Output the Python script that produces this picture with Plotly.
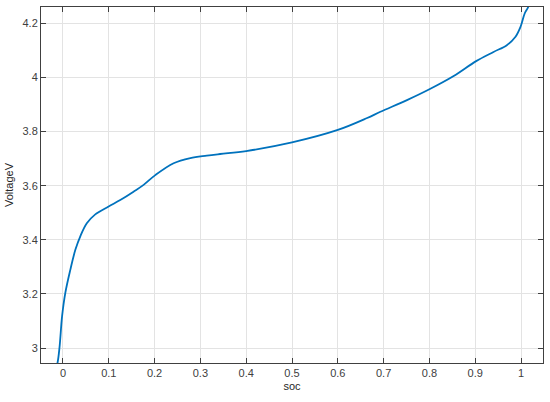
import plotly.graph_objects as go

soc = [-0.02, -0.012, -0.0074, -0.002, 0.005, 0.016, 0.027, 0.038, 0.052, 0.0705, 0.0996,
       0.125, 0.154, 0.176, 0.2015, 0.2415, 0.278, 0.314, 0.343, 0.4, 0.5, 0.6, 0.664,
       0.693, 0.751, 0.8, 0.853, 0.902, 0.940, 0.969, 0.988, 0.999, 1.008, 1.016, 1.02]
voltage = [2.90, 2.945, 3.006, 3.117, 3.203, 3.289, 3.363, 3.414, 3.461, 3.494, 3.523,
           3.547, 3.578, 3.603, 3.639, 3.683, 3.702, 3.711, 3.717, 3.728, 3.760, 3.806, 3.850,
           3.873, 3.916, 3.956, 4.005, 4.060, 4.094, 4.119, 4.150, 4.187, 4.236, 4.261, 4.29]

x_ticks = [0, 0.1, 0.2, 0.3, 0.4, 0.5, 0.6, 0.7, 0.8, 0.9, 1]
x_labels = ["0", "0.1", "0.2", "0.3", "0.4", "0.5", "0.6", "0.7", "0.8", "0.9", "1"]
y_ticks = [3, 3.2, 3.4, 3.6, 3.8, 4, 4.2]
y_labels = ["3", "3.2", "3.4", "3.6", "3.8", "4", "4.2"]

fig = go.Figure()
fig.add_trace(go.Scatter(x=soc, y=voltage, mode="lines",
                         line=dict(color="#0072BD", width=1.8, shape="spline", smoothing=1.0),
                         showlegend=False, hoverinfo="skip"))

axis_common = dict(
    showline=True, linecolor="#404040", linewidth=1, mirror="ticks",
    ticks="inside", ticklen=5, tickcolor="#404040", tickwidth=1,
    showgrid=True, gridcolor="#e3e3e3", gridwidth=1, zeroline=False,
    automargin=False,
    tickfont=dict(family="Liberation Sans, Arial", size=11, color="#404040"),
)

fig.update_layout(
    width=550, height=402,
    margin=dict(l=41, r=7, t=7, b=39),
    paper_bgcolor="white", plot_bgcolor="white",
    xaxis=dict(range=[-0.048, 1.048], tickvals=x_ticks, ticktext=x_labels,
               title=dict(text="soc", standoff=4,
                          font=dict(family="Liberation Sans, Arial", size=11, color="#262626")),
               **axis_common),
    yaxis=dict(range=[2.945, 4.26], tickvals=y_ticks, ticktext=y_labels,
               title=dict(text="VoltageV", standoff=6,
                          font=dict(family="Liberation Sans, Arial", size=11, color="#262626")),
               **axis_common),
)

fig.write_html("out.html", config={"displayModeBar": False},
               post_script="document.body.style.margin='0';document.body.style.padding='0';")
